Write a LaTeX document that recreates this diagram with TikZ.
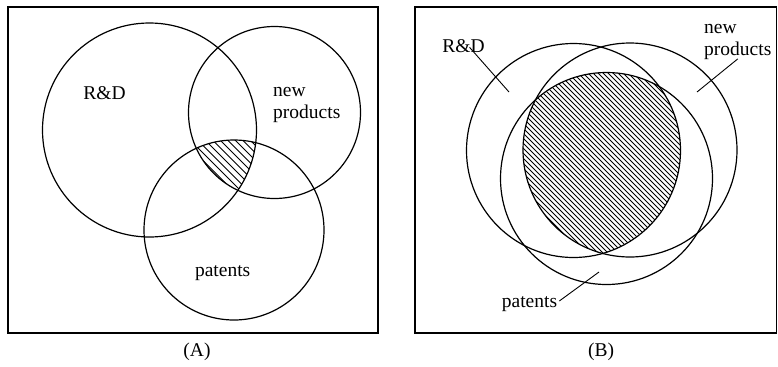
\documentclass[tikz,border=0pt]{standalone}
\usepackage{fontspec}
\setmainfont{Liberation Serif}
\begin{document}
\begin{tikzpicture}[x=1bp,y=-1bp,
  frame/.style={draw=black,line width=1.1bp},
  setc/.style={draw=black,line width=1.2bp},
  hatch/.style={draw=black,line width=0.8bp},
  lbl/.style={font=\fontsize{19.5bp}{22bp}\selectfont,inner sep=0pt},
  lead/.style={draw=black,line width=0.9bp}]
\useasboundingbox (0,0) rectangle (778,366);
% ---------- Panel A ----------
\draw[frame] (8,7) rectangle (378,333);
\begin{scope}
  \clip (149.5,130) circle (107);
  \clip (274.5,112.5) circle (86);
  \clip (234,230) circle (90);
  \foreach \k in {0,...,40} {
    \draw[hatch] (100+7.5*\k-150,80) -- ++(200,200);
  }
\end{scope}
\draw[setc] (149.5,130) circle (107);
\draw[setc] (274.5,112.5) circle (86);
\draw[setc] (234,230) circle (90);
\node[lbl] (rdA) at (104.5,93) {R\&D};
\node[lbl,align=left,anchor=west] (npA) at (273,105) {new\\products};
\node[lbl] (patA) at (222.7,273) {patents};
\node[lbl] (capA) at (197,352) {(A)};
% ---------- Panel B ----------
\draw[frame] (415,7) rectangle (776.5,333);
\begin{scope}
  \clip (573.5,150.5) circle (107);
  \clip (630,150) circle (107);
  \clip (606.5,178.5) circle (106);
  \foreach \k in {0,...,110} {
    \draw[hatch] (400+5*\k-300,40) -- ++(300,300);
  }
\end{scope}
\draw[setc] (573.5,150.5) circle (107);
\draw[setc] (630,150) circle (107);
\draw[setc] (606.5,178.5) circle (106);
\node[lbl] (rdB) at (463.5,46.5) {R\&D};
\node[lbl,align=left,anchor=west] (npB) at (704,42) {new\\products};
\node[lbl] (patB) at (529.5,304) {patents};
\coordinate (rdBend) at (509,92);
\coordinate (npBend) at (697,92);
\coordinate (patBend) at (599,272);
\draw[lead] ([xshift=6bp,yshift=6bp]rdB.south) -- (rdBend);
\draw[lead] ([yshift=1bp]npB.south) -- (npBend);
\draw[lead] ([xshift=2bp,yshift=3bp]patB.east) -- (patBend);
\node[lbl] (capB) at (601,352) {(B)};
\end{tikzpicture}
\end{document}
